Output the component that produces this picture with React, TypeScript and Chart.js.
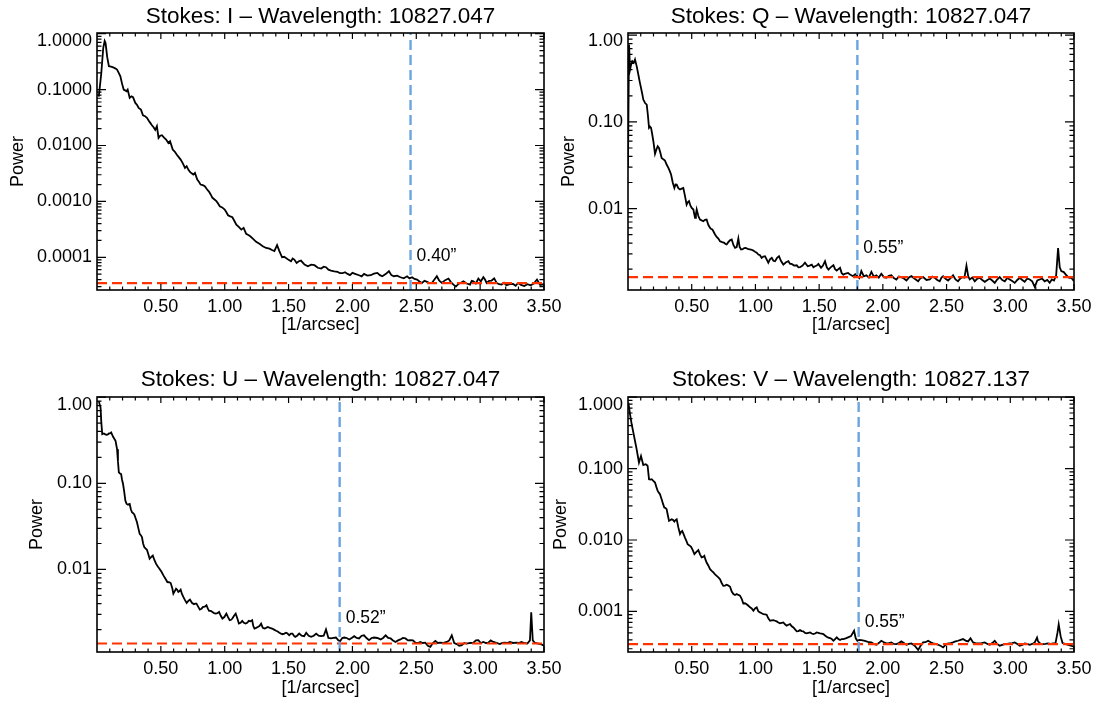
import React, { useEffect, useRef } from "react";
import { Chart, registerables } from "chart.js";

Chart.register(...registerables);

const FONT_FAMILY = "'Liberation Sans', Arial, Helvetica, sans-serif";

// ---------------- data ----------------
const freqI = [
  0.014, 0.033, 0.049, 0.06, 0.067, 0.08, 0.093, 0.11, 0.126, 0.142,
  0.157, 0.17, 0.183, 0.196, 0.209, 0.22, 0.23, 0.24, 0.256, 0.27,
  0.282, 0.3, 0.314, 0.326, 0.344, 0.36, 0.376, 0.391, 0.404, 0.417,
  0.43, 0.443, 0.456, 0.469, 0.482, 0.495, 0.508, 0.525, 0.541, 0.559,
  0.572, 0.593, 0.608, 0.624, 0.64, 0.655, 0.672, 0.689, 0.702, 0.715,
  0.728, 0.741, 0.754, 0.767, 0.785, 0.798, 0.811, 0.828, 0.844, 0.861,
  0.878, 0.891, 0.904, 0.92, 0.935, 0.948, 0.961, 0.98, 1.0, 1.013,
  1.026, 1.043, 1.06, 1.075, 1.091, 1.11, 1.13, 1.148, 1.168, 1.185,
  1.2, 1.22, 1.246, 1.272, 1.298, 1.324, 1.35, 1.37, 1.389, 1.41,
  1.428, 1.449, 1.465, 1.48, 1.5, 1.519, 1.532, 1.545, 1.563, 1.58,
  1.597, 1.625, 1.651, 1.677, 1.703, 1.729, 1.755, 1.775, 1.793, 1.812,
  1.832, 1.858, 1.884, 1.903, 1.923, 1.942, 1.962, 1.981, 2.0, 2.026,
  2.052, 2.072, 2.091, 2.117, 2.143, 2.169, 2.195, 2.215, 2.234, 2.26,
  2.286, 2.305, 2.324, 2.35, 2.376, 2.402, 2.428, 2.447, 2.467, 2.486,
  2.506, 2.525, 2.545, 2.564, 2.584, 2.603, 2.622, 2.642, 2.661, 2.68,
  2.7, 2.726, 2.752, 2.771, 2.791, 2.81, 2.83, 2.85, 2.869, 2.895,
  2.921, 2.934, 2.947, 2.966, 2.986, 3.005, 3.025, 3.038, 3.051, 3.07,
  3.09, 3.11, 3.129, 3.148, 3.168, 3.187, 3.206, 3.232, 3.258, 3.278,
  3.297, 3.32, 3.345, 3.37, 3.395, 3.42, 3.445, 3.47, 3.5,
];
const powerI = [
  0.075, 0.19, 0.56, 0.74, 0.68, 0.38, 0.262, 0.258, 0.251, 0.24,
  0.228, 0.2, 0.173, 0.128, 0.1, 0.097, 0.0936, 0.1, 0.0711, 0.076,
  0.0731, 0.0578, 0.053, 0.0471, 0.0439, 0.0348, 0.0335, 0.0312, 0.028, 0.0254,
  0.023, 0.0212, 0.019, 0.0221, 0.0137, 0.015, 0.0153, 0.0138, 0.0128, 0.0111,
  0.0119, 0.00846, 0.0078, 0.00688, 0.0062, 0.0056, 0.0048, 0.00397, 0.00426, 0.0037,
  0.00337, 0.00318, 0.00302, 0.00324, 0.00246, 0.00225, 0.002, 0.00195, 0.00187, 0.00165,
  0.00148, 0.00132, 0.00116, 0.00108, 0.00101, 0.00092, 0.00082, 0.00078, 0.000714, 0.00064,
  0.000566, 0.00054, 0.000521, 0.00045, 0.000385, 0.00035, 0.000313, 0.000336, 0.000262, 0.00025,
  0.000238, 0.000216, 0.000189, 0.000174, 0.000158, 0.000147, 0.000143, 0.000135, 0.000129, 0.000165,
  0.000129, 0.0001, 0.000102, 0.0000975, 0.00009, 0.0000851, 0.000095, 0.000091, 0.0000794, 0.000085,
  0.0000875, 0.000074, 0.0000692, 0.000074, 0.0000722, 0.000065, 0.0000629, 0.000068, 0.0000664, 0.00006,
  0.0000579, 0.000056, 0.0000548, 0.000052, 0.0000519, 0.000054, 0.0000505, 0.000048, 0.0000526, 0.00005,
  0.0000478, 0.0000455, 0.0000505, 0.000047, 0.0000478, 0.000051, 0.0000526, 0.000048, 0.0000458, 0.00005,
  0.0000564, 0.000048, 0.0000458, 0.000047, 0.000044, 0.000042, 0.0000458, 0.000042, 0.000044, 0.000041,
  0.00004, 0.000037, 0.0000348, 0.000038, 0.0000363, 0.0000345, 0.0000348, 0.00004, 0.0000458, 0.000038,
  0.0000348, 0.000039, 0.0000417, 0.000036, 0.0000325, 0.00003, 0.0000334, 0.000035, 0.0000373, 0.000034,
  0.0000325, 0.000038, 0.0000373, 0.000034, 0.0000417, 0.000037, 0.000044, 0.00004, 0.0000348, 0.000038,
  0.0000384, 0.000042, 0.0000348, 0.000033, 0.0000325, 0.000035, 0.0000316, 0.000033, 0.0000334, 0.000031,
  0.0000348, 0.000032, 0.0000305, 0.000033, 0.0000315, 0.000034, 0.00004, 0.000032, 0.000033,
];

const freqQ = [
  0.0, 0.008, 0.016, 0.025, 0.034, 0.045, 0.055, 0.068, 0.081, 0.092,
  0.102, 0.112, 0.12, 0.134, 0.147, 0.156, 0.165, 0.173, 0.181, 0.19,
  0.199, 0.206, 0.212, 0.223, 0.233, 0.243, 0.254, 0.264, 0.277, 0.29,
  0.304, 0.317, 0.328, 0.338, 0.351, 0.364, 0.373, 0.382, 0.395, 0.408,
  0.421, 0.434, 0.447, 0.46, 0.469, 0.479, 0.49, 0.5, 0.513, 0.526,
  0.533, 0.539, 0.552, 0.565, 0.578, 0.591, 0.604, 0.617, 0.63, 0.644,
  0.653, 0.662, 0.672, 0.683, 0.696, 0.709, 0.722, 0.739, 0.756, 0.765,
  0.774, 0.787, 0.8, 0.814, 0.827, 0.84, 0.853, 0.866, 0.876, 0.887,
  0.9, 0.912, 0.924, 0.945, 0.965, 0.98, 0.997, 1.01, 1.023, 1.036,
  1.049, 1.062, 1.075, 1.088, 1.101, 1.114, 1.128, 1.141, 1.154, 1.17,
  1.185, 1.2, 1.219, 1.24, 1.259, 1.272, 1.284, 1.304, 1.324, 1.337,
  1.35, 1.37, 1.389, 1.41, 1.425, 1.442, 1.455, 1.468, 1.481, 1.494,
  1.515, 1.53, 1.546, 1.56, 1.573, 1.59, 1.612, 1.625, 1.638, 1.651,
  1.664, 1.677, 1.69, 1.708, 1.727, 1.746, 1.766, 1.783, 1.8, 1.815,
  1.831, 1.851, 1.871, 1.89, 1.91, 1.93, 1.949, 1.968, 1.988, 2.008,
  2.028, 2.047, 2.067, 2.086, 2.106, 2.125, 2.145, 2.165, 2.185, 2.204,
  2.224, 2.25, 2.277, 2.296, 2.316, 2.342, 2.368, 2.388, 2.407, 2.427,
  2.446, 2.46, 2.473, 2.492, 2.512, 2.531, 2.551, 2.57, 2.59, 2.606,
  2.622, 2.64, 2.656, 2.67, 2.682, 2.702, 2.721, 2.74, 2.76, 2.78,
  2.8, 2.82, 2.839, 2.858, 2.878, 2.897, 2.917, 2.937, 2.957, 2.976,
  2.996, 3.015, 3.035, 3.055, 3.074, 3.094, 3.113, 3.133, 3.153, 3.172,
  3.192, 3.212, 3.231, 3.25, 3.27, 3.29, 3.309, 3.326, 3.343, 3.36,
  3.375, 3.388, 3.4, 3.42, 3.44, 3.46, 3.48, 3.5,
];
const powerQ = [
  0.03, 0.78, 0.4, 0.46, 0.5, 0.48, 0.524, 0.44, 0.352, 0.29,
  0.247, 0.21, 0.181, 0.165, 0.158, 0.12, 0.0853, 0.088, 0.0853, 0.072,
  0.0598, 0.05, 0.0428, 0.048, 0.0524, 0.0501, 0.044, 0.0384, 0.037, 0.0358,
  0.032, 0.0295, 0.027, 0.0247, 0.02, 0.0173, 0.019, 0.0189, 0.0172, 0.0166,
  0.017, 0.0173, 0.014, 0.0111, 0.0118, 0.0122, 0.0108, 0.0102, 0.00975, 0.00782,
  0.0086, 0.00975, 0.0082, 0.00747, 0.0073, 0.00715, 0.0074, 0.00747, 0.0065, 0.00599,
  0.0058, 0.00573, 0.0054, 0.00502, 0.0047, 0.0045, 0.0042, 0.0041, 0.00402, 0.0039,
  0.00385, 0.0041, 0.0043, 0.0044, 0.0038, 0.00352, 0.0036, 0.00451, 0.0036, 0.00337,
  0.0034, 0.0035, 0.00352, 0.0034, 0.00337, 0.0033, 0.00317, 0.0031, 0.00295, 0.0029,
  0.0027, 0.0028, 0.00282, 0.0026, 0.00237, 0.0026, 0.0027, 0.0025, 0.00247, 0.0027,
  0.00282, 0.0025, 0.00226, 0.0024, 0.00247, 0.0023, 0.0023, 0.0022, 0.00222, 0.0021,
  0.00211, 0.0022, 0.00237, 0.00216, 0.0022, 0.00226, 0.0021, 0.00216, 0.0022, 0.0023,
  0.00207, 0.0022, 0.00247, 0.0021, 0.00198, 0.0021, 0.00222, 0.002, 0.00193, 0.002,
  0.00207, 0.0018, 0.00173, 0.00178, 0.00181, 0.00172, 0.00166, 0.00175, 0.00166, 0.00158,
  0.0019, 0.00165, 0.0017, 0.0016, 0.00186, 0.00163, 0.0017, 0.0016, 0.00177, 0.00162,
  0.00159, 0.00168, 0.0017, 0.00158, 0.00152, 0.00165, 0.00162, 0.00156, 0.00148, 0.0016,
  0.00166, 0.00155, 0.00145, 0.00158, 0.00162, 0.0015, 0.00152, 0.00164, 0.00159, 0.0015,
  0.00145, 0.0016, 0.00166, 0.00155, 0.00148, 0.00158, 0.0017, 0.00152, 0.00145, 0.00155,
  0.00162, 0.0016, 0.0022, 0.00165, 0.00152, 0.0016, 0.00145, 0.00155, 0.00159, 0.0015,
  0.00143, 0.0015, 0.00156, 0.00148, 0.00139, 0.00152, 0.00162, 0.0015, 0.00145, 0.00158,
  0.00152, 0.00146, 0.00139, 0.0015, 0.00159, 0.0015, 0.00143, 0.00156, 0.00152, 0.00145,
  0.00125, 0.00148, 0.00152, 0.00156, 0.00145, 0.0015, 0.00139, 0.00152, 0.00148, 0.0017,
  0.0035, 0.0021, 0.0019, 0.00185, 0.0017, 0.0016, 0.00158, 0.00145,
];

const freqU = [
  0.014, 0.028, 0.033, 0.041, 0.054, 0.065, 0.075, 0.085, 0.093, 0.102,
  0.111, 0.126, 0.145, 0.157, 0.164, 0.171, 0.18, 0.189, 0.196, 0.204,
  0.213, 0.222, 0.231, 0.24, 0.256, 0.265, 0.274, 0.283, 0.292, 0.303,
  0.313, 0.324, 0.334, 0.343, 0.352, 0.361, 0.37, 0.381, 0.391, 0.402,
  0.412, 0.425, 0.437, 0.45, 0.463, 0.476, 0.489, 0.505, 0.52, 0.536,
  0.551, 0.564, 0.577, 0.59, 0.598, 0.609, 0.619, 0.628, 0.637, 0.646,
  0.655, 0.665, 0.676, 0.689, 0.702, 0.715, 0.728, 0.743, 0.759, 0.769,
  0.779, 0.792, 0.805, 0.818, 0.831, 0.844, 0.857, 0.868, 0.878, 0.891,
  0.904, 0.917, 0.93, 0.943, 0.956, 0.969, 0.982, 0.997, 1.013, 1.026,
  1.039, 1.05, 1.06, 1.073, 1.086, 1.099, 1.111, 1.124, 1.137, 1.15,
  1.163, 1.176, 1.189, 1.202, 1.215, 1.224, 1.233, 1.246, 1.259, 1.272,
  1.285, 1.298, 1.311, 1.324, 1.337, 1.354, 1.371, 1.386, 1.402, 1.415,
  1.428, 1.441, 1.454, 1.467, 1.48, 1.492, 1.505, 1.518, 1.531, 1.541,
  1.552, 1.567, 1.583, 1.602, 1.622, 1.638, 1.657, 1.677, 1.697, 1.716,
  1.735, 1.755, 1.775, 1.793, 1.812, 1.832, 1.851, 1.871, 1.89, 1.905,
  1.92, 1.936, 1.955, 1.975, 1.994, 2.014, 2.033, 2.052, 2.072, 2.091,
  2.11, 2.13, 2.15, 2.169, 2.195, 2.221, 2.24, 2.26, 2.28, 2.299,
  2.318, 2.337, 2.357, 2.376, 2.395, 2.415, 2.435, 2.454, 2.474, 2.493,
  2.512, 2.532, 2.551, 2.571, 2.59, 2.61, 2.63, 2.649, 2.668, 2.687,
  2.713, 2.739, 2.758, 2.778, 2.797, 2.817, 2.836, 2.856, 2.876, 2.895,
  2.921, 2.947, 2.967, 2.986, 3.005, 3.025, 3.045, 3.064, 3.083, 3.103,
  3.128, 3.154, 3.174, 3.193, 3.212, 3.232, 3.258, 3.284, 3.303, 3.323,
  3.345, 3.37, 3.39, 3.4, 3.412, 3.43, 3.455, 3.48, 3.5,
];
const powerU = [
  0.9, 0.757, 0.531, 0.372, 0.379, 0.37, 0.366, 0.37, 0.379, 0.38,
  0.389, 0.347, 0.311, 0.249, 0.18, 0.134, 0.13, 0.128, 0.11, 0.0982,
  0.08, 0.063, 0.058, 0.0566, 0.0576, 0.05, 0.0461, 0.045, 0.0434, 0.039,
  0.0353, 0.03, 0.0259, 0.025, 0.0237, 0.02, 0.0182, 0.0175, 0.0169, 0.015,
  0.0133, 0.014, 0.0145, 0.0128, 0.0116, 0.0108, 0.0102, 0.0094, 0.00853, 0.0078,
  0.00714, 0.0071, 0.00695, 0.006, 0.00523, 0.0056, 0.00598, 0.0058, 0.00547, 0.0056,
  0.00582, 0.0052, 0.00479, 0.0044, 0.00408, 0.0043, 0.00446, 0.0041, 0.00394, 0.004,
  0.00401, 0.0037, 0.00342, 0.0035, 0.00367, 0.0037, 0.00384, 0.0035, 0.0033, 0.0033,
  0.00321, 0.0031, 0.00307, 0.0031, 0.00321, 0.0029, 0.00269, 0.0028, 0.00307, 0.0028,
  0.00257, 0.0026, 0.00269, 0.0029, 0.00307, 0.0027, 0.00235, 0.0024, 0.00253, 0.0024,
  0.00235, 0.0024, 0.00253, 0.0025, 0.00257, 0.0022, 0.00206, 0.0021, 0.00215, 0.0022,
  0.00235, 0.0021, 0.00206, 0.0021, 0.00215, 0.0021, 0.00206, 0.002, 0.00194, 0.0019,
  0.00184, 0.0018, 0.00177, 0.0018, 0.00184, 0.0018, 0.00172, 0.0018, 0.0018, 0.0017,
  0.00165, 0.0017, 0.0018, 0.0017, 0.00168, 0.00184, 0.0017, 0.00165, 0.0017, 0.0018,
  0.0017, 0.00168, 0.0017, 0.00201, 0.0016, 0.00158, 0.0016, 0.00162, 0.0015, 0.00148,
  0.0016, 0.00162, 0.0016, 0.00154, 0.0016, 0.00168, 0.0016, 0.00158, 0.0017, 0.00172,
  0.0016, 0.00151, 0.0016, 0.00162, 0.0016, 0.00154, 0.0016, 0.00172, 0.0016, 0.00158,
  0.0015, 0.00144, 0.0015, 0.00154, 0.0016, 0.00158, 0.0015, 0.00151, 0.0015, 0.00141,
  0.0014, 0.00144, 0.0014, 0.00141, 0.0013, 0.00126, 0.0014, 0.00148, 0.0014, 0.00141,
  0.0014, 0.00144, 0.0015, 0.00172, 0.0014, 0.00136, 0.0013, 0.00132, 0.0014, 0.00138,
  0.0014, 0.00141, 0.0015, 0.00151, 0.0014, 0.00144, 0.0014, 0.00141, 0.0015, 0.00144,
  0.0014, 0.00136, 0.0014, 0.00141, 0.0014, 0.00144, 0.0014, 0.00141, 0.0014, 0.00144,
  0.0014, 0.00138, 0.0015, 0.00318, 0.0015, 0.0014, 0.00138, 0.00135, 0.0013,
];

const freqV = [
  0.003, 0.016, 0.029, 0.042, 0.055, 0.068, 0.077, 0.086, 0.094, 0.102,
  0.111, 0.12, 0.13, 0.139, 0.147, 0.154, 0.165, 0.176, 0.186, 0.199,
  0.212, 0.223, 0.233, 0.242, 0.251, 0.258, 0.264, 0.275, 0.285, 0.294,
  0.303, 0.313, 0.322, 0.333, 0.343, 0.354, 0.364, 0.373, 0.382, 0.395,
  0.408, 0.417, 0.426, 0.437, 0.447, 0.458, 0.468, 0.482, 0.495, 0.508,
  0.521, 0.537, 0.552, 0.565, 0.578, 0.589, 0.599, 0.608, 0.617, 0.63,
  0.644, 0.657, 0.67, 0.683, 0.696, 0.709, 0.722, 0.735, 0.748, 0.761,
  0.774, 0.788, 0.801, 0.814, 0.827, 0.84, 0.853, 0.866, 0.879, 0.892,
  0.905, 0.918, 0.931, 0.945, 0.958, 0.971, 0.984, 0.997, 1.01, 1.023,
  1.036, 1.049, 1.062, 1.075, 1.088, 1.101, 1.115, 1.128, 1.141, 1.154,
  1.167, 1.18, 1.193, 1.206, 1.219, 1.232, 1.245, 1.258, 1.272, 1.285,
  1.298, 1.311, 1.324, 1.337, 1.35, 1.363, 1.376, 1.389, 1.402, 1.415,
  1.429, 1.442, 1.455, 1.468, 1.481, 1.494, 1.507, 1.52, 1.533, 1.546,
  1.559, 1.572, 1.586, 1.599, 1.612, 1.625, 1.638, 1.651, 1.664, 1.677,
  1.69, 1.708, 1.727, 1.75, 1.774, 1.787, 1.8, 1.815, 1.831, 1.851,
  1.871, 1.89, 1.91, 1.93, 1.949, 1.968, 1.988, 2.008, 2.028, 2.047,
  2.067, 2.086, 2.106, 2.125, 2.145, 2.165, 2.185, 2.204, 2.224, 2.25,
  2.277, 2.296, 2.316, 2.335, 2.355, 2.375, 2.394, 2.414, 2.433, 2.453,
  2.473, 2.492, 2.512, 2.531, 2.551, 2.57, 2.59, 2.61, 2.629, 2.649,
  2.669, 2.688, 2.708, 2.727, 2.747, 2.773, 2.8, 2.82, 2.839, 2.858,
  2.878, 2.897, 2.917, 2.937, 2.957, 2.976, 2.996, 3.015, 3.035, 3.055,
  3.074, 3.094, 3.113, 3.133, 3.153, 3.172, 3.192, 3.21, 3.218, 3.238,
  3.257, 3.276, 3.296, 3.316, 3.336, 3.355, 3.37, 3.38, 3.395, 3.41,
  3.43, 3.455, 3.48, 3.5,
];
const powerV = [
  0.84, 0.575, 0.417, 0.319, 0.243, 0.186, 0.15, 0.121, 0.135, 0.15,
  0.13, 0.112, 0.114, 0.115, 0.112, 0.109, 0.0709, 0.07, 0.0709, 0.067,
  0.0637, 0.055, 0.0487, 0.046, 0.0437, 0.04, 0.0372, 0.032, 0.0285, 0.028,
  0.027, 0.022, 0.0185, 0.019, 0.0195, 0.019, 0.0181, 0.019, 0.0195, 0.015,
  0.0121, 0.013, 0.0134, 0.012, 0.0108, 0.0097, 0.00874, 0.0084, 0.00802, 0.0072,
  0.00633, 0.0068, 0.0072, 0.0063, 0.00569, 0.0058, 0.006, 0.0053, 0.00484, 0.0044,
  0.00391, 0.0037, 0.00351, 0.0033, 0.00315, 0.003, 0.00283, 0.0025, 0.00228, 0.0023,
  0.00236, 0.0023, 0.00221, 0.0019, 0.00175, 0.0017, 0.00175, 0.0017, 0.00166, 0.0015,
  0.00129, 0.0013, 0.00126, 0.0012, 0.00114, 0.0011, 0.00102, 0.0011, 0.00114, 0.001,
  0.000968, 0.00094, 0.000917, 0.00091, 0.000898, 0.0008, 0.00074, 0.00075, 0.000755, 0.00074,
  0.000724, 0.0007, 0.000679, 0.00069, 0.000701, 0.00066, 0.00063, 0.00065, 0.000664, 0.00062,
  0.000597, 0.00056, 0.000525, 0.00053, 0.000547, 0.00053, 0.000525, 0.0005, 0.000492, 0.0005,
  0.000508, 0.00049, 0.000482, 0.00049, 0.000508, 0.0005, 0.000492, 0.00049, 0.000482, 0.00046,
  0.000442, 0.00043, 0.000423, 0.00041, 0.000388, 0.00041, 0.000433, 0.00041, 0.000397, 0.00041,
  0.00041, 0.00042, 0.000433, 0.00045, 0.000536, 0.00042, 0.000388, 0.0004, 0.000397, 0.00039,
  0.00038, 0.00037, 0.000368, 0.00035, 0.000341, 0.00036, 0.000388, 0.00037, 0.000356, 0.00036,
  0.000368, 0.00035, 0.000349, 0.00036, 0.00038, 0.00036, 0.000341, 0.00035, 0.000356, 0.00033,
  0.000288, 0.00033, 0.000368, 0.00037, 0.000388, 0.00037, 0.000356, 0.00035, 0.000341, 0.00033,
  0.000313, 0.00034, 0.000356, 0.00036, 0.000368, 0.00038, 0.000388, 0.0004, 0.00041, 0.00039,
  0.00038, 0.00042, 0.000368, 0.00036, 0.000356, 0.00036, 0.000368, 0.00035, 0.000341, 0.00036,
  0.000388, 0.00035, 0.000331, 0.00034, 0.000349, 0.00035, 0.000356, 0.00036, 0.000368, 0.00035,
  0.000331, 0.00034, 0.000356, 0.00035, 0.000341, 0.00035, 0.000368, 0.00043, 0.00038, 0.00035,
  0.000349, 0.00035, 0.000356, 0.00035, 0.000356, 0.00036, 0.0005, 0.00066, 0.00045, 0.00036,
  0.00035, 0.00034, 0.00033, 0.00032,
];

// noise levels (red dashed) and resolution limits (blue dashed)
const noiseI = 3.45e-5;
const noiseQ = 1.62e-3;
const noiseU = 1.38e-3;
const noiseV = 3.49e-4;

const resFreqI = 2.455;
const resFreqQ = 1.8;
const resFreqU = 1.9;
const resFreqV = 1.81;

const resLabelI = "0.40\u201d";
const resLabelQ = "0.55\u201d";
const resLabelU = "0.52\u201d";
const resLabelV = "0.55\u201d";

const resLabelPowerI = 1.05e-4;
const resLabelPowerQ = 3.5e-3;
const resLabelPowerU = 2.7e-3;
const resLabelPowerV = 7.1e-4;

const titles = [
  "Stokes: I \u2013 Wavelength: 10827.047",
  "Stokes: Q \u2013 Wavelength: 10827.047",
  "Stokes: U \u2013 Wavelength: 10827.047",
  "Stokes: V \u2013 Wavelength: 10827.137",
];

// axes
const xRange = [0, 3.5];
const xMajorTicks = [0.5, 1.0, 1.5, 2.0, 2.5, 3.0, 3.5];
const xMinorCount = 35; // minor ticks every 0.1 up to 3.5
const xAxisTitle = "[1/arcsec]";
const yAxisTitle = "Power";

const yRangeI = [2.6e-5, 1.03];
const yRangeQ = [1.15e-3, 1.06];
const yRangeU = [1.1e-3, 1.005];
const yRangeV = [2.7e-4, 1.005];

const yMajorI = [1, 0.1, 0.01, 0.001, 0.0001];
const yLabelsI = ["1.0000", "0.1000", "0.0100", "0.0010", "0.0001"];
const yMajorQ = [1, 0.1, 0.01];
const yLabelsQ = ["1.00", "0.10", "0.01"];
const yMajorU = [1, 0.1, 0.01];
const yLabelsU = ["1.00", "0.10", "0.01"];
const yMajorV = [1, 0.1, 0.01, 0.001];
const yLabelsV = ["1.000", "0.100", "0.010", "0.001"];

// ---------------- layout (positions / styles) ----------------
const frames = [
  { left: 0, top: 0, width: 575, height: 351, area: { left: 97, right: 544, top: 33, bottom: 290 }, titleY: 16.5, yTitlePad: 7.2, xTitlePad: 15.2 },
  { left: 549, top: 0, width: 550, height: 351, area: { left: 79, right: 525, top: 33, bottom: 290 }, titleY: 16.5, yTitlePad: 9.2, xTitlePad: 15.2 },
  { left: 0, top: 351, width: 575, height: 351, area: { left: 97, right: 544, top: 46, bottom: 301 }, titleY: 29, yTitlePad: 26.2, xTitlePad: 3.2 },
  { left: 549, top: 351, width: 550, height: 351, area: { left: 79, right: 525, top: 46, bottom: 301 }, titleY: 29, yTitlePad: 1.0, xTitlePad: 3.2 },
];

const panelData = [
  { title: titles[0], freq: freqI, power: powerI, noise: noiseI, res: resFreqI, resLabel: resLabelI, resLabelPower: resLabelPowerI, yRange: yRangeI, yMajor: yMajorI, yLabels: yLabelsI },
  { title: titles[1], freq: freqQ, power: powerQ, noise: noiseQ, res: resFreqQ, resLabel: resLabelQ, resLabelPower: resLabelPowerQ, yRange: yRangeQ, yMajor: yMajorQ, yLabels: yLabelsQ },
  { title: titles[2], freq: freqU, power: powerU, noise: noiseU, res: resFreqU, resLabel: resLabelU, resLabelPower: resLabelPowerU, yRange: yRangeU, yMajor: yMajorU, yLabels: yLabelsU },
  { title: titles[3], freq: freqV, power: powerV, noise: noiseV, res: resFreqV, resLabel: resLabelV, resLabelPower: resLabelPowerV, yRange: yRangeV, yMajor: yMajorV, yLabels: yLabelsV },
];

const TICK_FONT = { family: FONT_FAMILY, size: 18 };
const TITLE_FONT_SIZE = 22.5;
const NOTE_FONT_SIZE = 17.5;
const TOP_LABEL_MIN_OFFSET = 8;
const RED = "#ff3300";
const BLUE = "#6aa5e0";

function isXMajor(v: number) {
  return xMajorTicks.some((m) => Math.abs(m - v) < 1e-6);
}

function isYMajor(v: number, majors: number[]) {
  return majors.some((m) => Math.abs(v / m - 1) < 1e-6);
}

function buildYTicks(range: number[]) {
  const lo = Math.floor(Math.log10(range[0]));
  const hi = Math.ceil(Math.log10(range[1]));
  const out: number[] = [];
  for (let e = lo; e <= hi; e++) {
    for (let m = 1; m <= 9; m++) {
      const v = parseFloat((m * Math.pow(10, e)).toPrecision(6));
      if (v >= range[0] * 0.9999 && v <= range[1] * 1.0001) out.push(v);
    }
  }
  return out;
}

function buildXTicks() {
  const out: number[] = [];
  for (let k = 1; k <= xMinorCount; k++) out.push(parseFloat((k * 0.1).toFixed(2)));
  return out;
}

function makeChart(canvas: HTMLCanvasElement, d: any, f: any) {
  const W = f.width;
  const H = f.height;
  const yTicks = buildYTicks(d.yRange);
  const xTicks = buildXTicks();

  const framePlugin = {
    id: "idlFrame",
    beforeDraw(chart: any) {
      // keep the top y tick label inside the frame, as in the original plot
      const ys = chart.scales.y;
      const top = chart.chartArea.top;
      const items = ys.getLabelItems();
      items.forEach((it: any) => {
        if (!it.label) return;
        const tr = it.options.translation;
        if (tr[1] < top + TOP_LABEL_MIN_OFFSET) tr[1] = top + TOP_LABEL_MIN_OFFSET;
      });
    },
    afterDraw(chart: any) {
      const { ctx, chartArea: a } = chart;
      const xs = chart.scales.x;
      const ys = chart.scales.y;
      ctx.save();
      ctx.strokeStyle = "#000";
      ctx.lineWidth = 1.6;
      ctx.strokeRect(a.left, a.top, a.right - a.left, a.bottom - a.top);
      ctx.lineWidth = 1.2;
      ctx.beginPath();
      xs.ticks.forEach((t: any) => {
        const px = xs.getPixelForValue(t.value);
        const len = isXMajor(t.value) ? 6 : 3.5;
        ctx.moveTo(px, a.bottom);
        ctx.lineTo(px, a.bottom - len);
        ctx.moveTo(px, a.top);
        ctx.lineTo(px, a.top + len);
      });
      ys.ticks.forEach((t: any) => {
        const py = ys.getPixelForValue(t.value);
        const len = isYMajor(t.value, d.yMajor) ? 9 : 4.5;
        ctx.moveTo(a.left, py);
        ctx.lineTo(a.left + len, py);
        ctx.moveTo(a.right, py);
        ctx.lineTo(a.right - len, py);
      });
      ctx.stroke();

      // panel title
      ctx.fillStyle = "#000";
      ctx.font = `${TITLE_FONT_SIZE}px ${FONT_FAMILY}`;
      ctx.textAlign = "center";
      ctx.textBaseline = "middle";
      ctx.fillText(d.title, (a.left + a.right) / 2, f.titleY);

      // resolution annotation
      ctx.font = `${NOTE_FONT_SIZE}px ${FONT_FAMILY}`;
      ctx.textAlign = "left";
      ctx.fillText(d.resLabel, xs.getPixelForValue(d.res) + 6, ys.getPixelForValue(d.resLabelPower));
      ctx.restore();
    },
  };

  return new Chart(canvas, {
    type: "scatter",
    data: {
      datasets: [
        {
          data: d.freq.map((x: number, i: number) => ({ x, y: d.power[i] })),
          showLine: true,
          borderColor: "#000",
          borderWidth: 1.8,
          pointRadius: 0,
          order: 2,
        },
        {
          data: [
            { x: xRange[0], y: d.noise },
            { x: xRange[1], y: d.noise },
          ],
          showLine: true,
          borderColor: RED,
          borderWidth: 2.2,
          borderDash: [10, 5],
          pointRadius: 0,
          order: 1,
        },
        {
          data: [
            { x: d.res, y: d.yRange[0] },
            { x: d.res, y: d.yRange[1] },
          ],
          showLine: true,
          borderColor: BLUE,
          borderWidth: 2.4,
          borderDash: [10, 5],
          pointRadius: 0,
          order: 0,
        },
      ],
    },
    options: {
      animation: false,
      responsive: false,
      devicePixelRatio: 1,
      events: [],
      layout: { padding: { left: 0, top: f.area.top, right: W - f.area.right, bottom: 0 } },
      plugins: { legend: { display: false }, tooltip: { enabled: false }, title: { display: false } },
      scales: {
        x: {
          type: "linear",
          position: "bottom",
          min: xRange[0],
          max: xRange[1],
          grid: { display: false, drawTicks: false },
          border: { display: false },
          ticks: {
            autoSkip: false,
            maxRotation: 0,
            padding: 6,
            color: "#000",
            font: TICK_FONT,
            callback: (v: any) => (isXMajor(Number(v)) ? Number(v).toFixed(2) : ""),
          },
          afterBuildTicks: (s: any) => {
            s.ticks = xTicks.map((v) => ({ value: v }));
          },
          afterFit: (s: any) => {
            s.height = H - f.area.bottom;
            s.paddingLeft = 0;
            s.paddingRight = 0;
            s.paddingTop = 0;
            s.paddingBottom = 0;
          },
          title: {
            display: true,
            text: xAxisTitle,
            color: "#000",
            font: TICK_FONT,
            padding: { top: 0, bottom: f.xTitlePad },
          },
        },
        y: {
          type: "logarithmic",
          position: "left",
          min: d.yRange[0],
          max: d.yRange[1],
          grid: { display: false, drawTicks: false },
          border: { display: false },
          ticks: {
            autoSkip: false,
            padding: 5,
            color: "#000",
            font: TICK_FONT,
            callback: (v: any) => {
              const i = d.yMajor.findIndex((m: number) => Math.abs(Number(v) / m - 1) < 1e-6);
              return i >= 0 ? d.yLabels[i] : "";
            },
          },
          afterBuildTicks: (s: any) => {
            s.ticks = yTicks.map((v) => ({ value: v }));
          },
          afterFit: (s: any) => {
            s.width = f.area.left;
            s.paddingLeft = 0;
            s.paddingRight = 0;
            s.paddingTop = 0;
            s.paddingBottom = 0;
          },
          title: {
            display: true,
            text: yAxisTitle,
            color: "#000",
            font: TICK_FONT,
            padding: { top: f.yTitlePad, bottom: 0 },
          },
        },
      },
    },
    plugins: [framePlugin],
  } as any);
}

function Panel({ d, f }: { d: any; f: any }) {
  const ref = useRef<HTMLCanvasElement | null>(null);
  useEffect(() => {
    if (!ref.current) return;
    const chart = makeChart(ref.current, d, f);
    return () => chart.destroy();
  }, []);
  return (
    <canvas
      ref={ref}
      width={f.width}
      height={f.height}
      style={{ position: "absolute", left: f.left, top: f.top, width: f.width, height: f.height }}
    />
  );
}

export default function App() {
  return (
    <div style={{ position: "absolute", left: 0, top: 0, width: 1099, height: 702, background: "#fff", overflow: "hidden" }}>
      {panelData.map((d, i) => (
        <Panel key={i} d={d} f={frames[i]} />
      ))}
    </div>
  );
}
